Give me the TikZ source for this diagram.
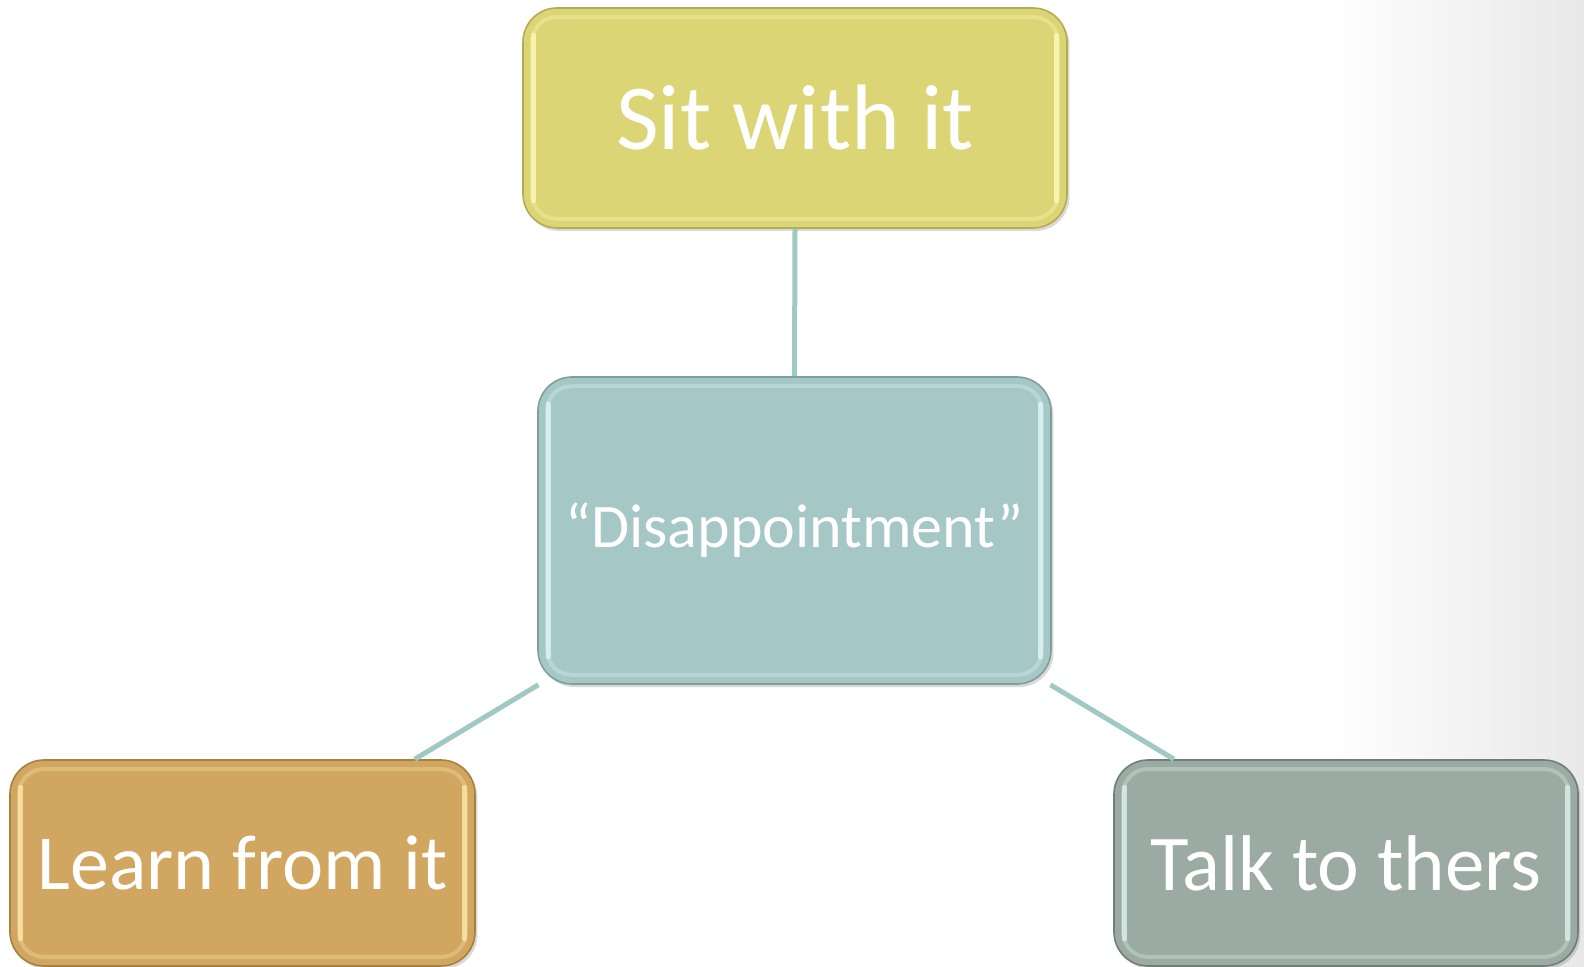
\documentclass[tikz,border=0pt]{standalone}
\usepackage{fontspec}
\setmainfont{Carlito}
\usepackage{xcolor}
\usepackage{tikz}
\usetikzlibrary{positioning, shadows, calc}

\definecolor{sitfill}{HTML}{DCD576}
\definecolor{sitrim}{HTML}{FBF9B4}
\definecolor{sitedge}{HTML}{B3AC55}
\definecolor{disfill}{HTML}{A5C7C6}
\definecolor{disrim}{HTML}{DDF4F3}
\definecolor{disedge}{HTML}{7F9F9E}
\definecolor{learnfill}{HTML}{D1A660}
\definecolor{learnrim}{HTML}{FBE3A8}
\definecolor{learnedge}{HTML}{A7813F}
\definecolor{talkfill}{HTML}{9BABA3}
\definecolor{talkrim}{HTML}{D9EDE6}
\definecolor{talkedge}{HTML}{6F7F78}
\definecolor{linkteal}{HTML}{A0C8C4}

\tikzset{
  box/.style={rectangle, rounded corners=17pt, inner sep=0pt, line width=0.8pt, text=white,
    drop shadow={shadow xshift=1.2pt, shadow yshift=-1.5pt, opacity=0.3}},
  rim/.style={line width=2pt, rounded corners=12pt, opacity=0.35},
  sidelight/.style={line width=2.5pt, line cap=round, opacity=0.85},
  link/.style={line width=2.5pt, draw=linkteal},
}

\begin{document}
\begin{tikzpicture}[x=0.5pt, y=-0.5pt]
  \useasboundingbox (0, 0) rectangle (1584, 967);
  \shade[left color=white, right color=black!9] (1330, 0) rectangle (1584, 967);

  \node[box, fill=sitfill, draw=sitedge, minimum width=272pt, minimum height=110pt,
    font=\fontsize{46.5}{56}\selectfont] (sit) at (795, 118) {Sit with it};
  \node[box, fill=disfill, draw=disedge, minimum width=256.5pt, minimum height=153.5pt,
    font=\fontsize{31}{37}\selectfont] (disap) at (794.5, 530.5) {“Disappointment”};
  \node[box, fill=learnfill, draw=learnedge, minimum width=232.5pt, minimum height=103pt,
    font=\fontsize{39}{47}\selectfont] (learn) at (242.5, 863) {Learn from it};
  \node[box, fill=talkfill, draw=talkedge, minimum width=232pt, minimum height=103pt,
    font=\fontsize{39.5}{47}\selectfont] (talk) at (1346, 863) {Talk to thers};

  % inner bevel
  \foreach \n/\c in {sit/sitrim, disap/disrim, learn/learnrim, talk/talkrim} {
    \draw[rim, draw=\c] ([shift={(5pt,-5pt)}]\n.north west) rectangle ([shift={(-5pt,5pt)}]\n.south east);
    \draw[sidelight, draw=\c] ([shift={(5.5pt,-14pt)}]\n.north west) -- ([shift={(5.5pt,14pt)}]\n.south west);
    \draw[sidelight, draw=\c] ([shift={(-5.5pt,-14pt)}]\n.north east) -- ([shift={(-5.5pt,14pt)}]\n.south east);
  }

  \draw[link] (sit.south) -- (disap.north);
  \draw[link] (disap) -- (learn);
  \draw[link] (disap) -- (talk);
\end{tikzpicture}
\end{document}
